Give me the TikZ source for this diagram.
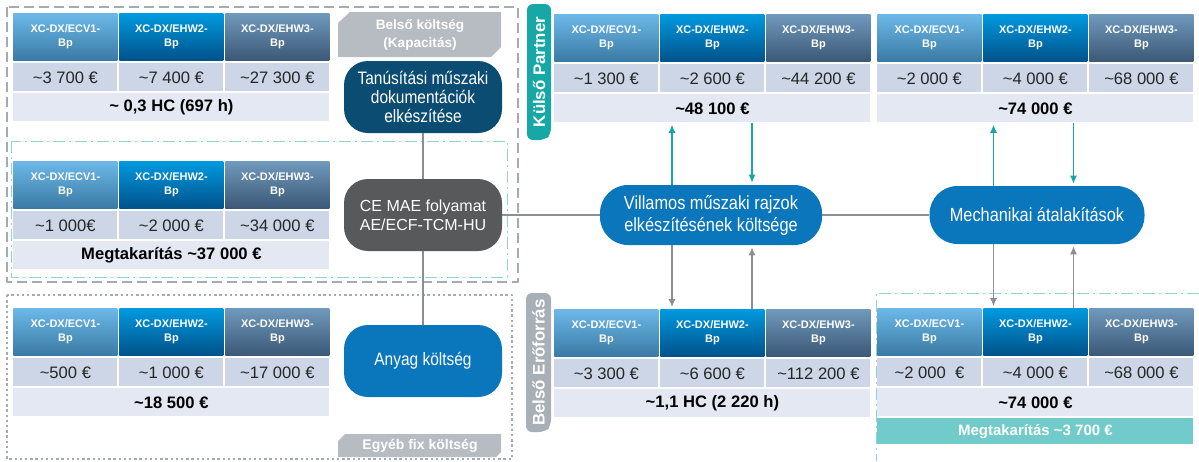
\documentclass[tikz,border=0pt]{standalone}
\usepackage{fontspec}
\setmainfont{Liberation Sans}
\newfontfamily\angosta[FakeStretch=0.86]{Liberation Sans}
\usetikzlibrary{arrows.meta}
\definecolor{azulosc}{HTML}{0B4C73}
\definecolor{azul}{HTML}{0A76BC}
\definecolor{grisosc}{HTML}{58595B}
\definecolor{gristab}{HTML}{B7BCC3}
\definecolor{grisere}{HTML}{A9AFB7}
\definecolor{turq}{HTML}{17A7A6}
\definecolor{turqcl}{HTML}{70CBCA}
\definecolor{turqlin}{HTML}{8ED6D5}
\definecolor{grislin}{HTML}{A6ABB3}
\definecolor{conec}{HTML}{8C8E92}
\definecolor{valfondo}{HTML}{CCD6E6}
\definecolor{totfondo}{HTML}{E4E8F2}
\definecolor{uno}{HTML}{6CB8E8}
\definecolor{unob}{HTML}{3A7AA4}
\definecolor{dos}{HTML}{0099DF}
\definecolor{dosb}{HTML}{00528A}
\definecolor{tres}{HTML}{7099BC}
\definecolor{tresb}{HTML}{3B5876}
\newcommand\kb{\textasciitilde}
% una tabla: nombre, x, y, tres valores, total
\newcommand\tabla[7]{%
  \node[cabecera, top color=uno, bottom color=unob] at (#2,#3) {XC-DX/ECV1-\\Bp};
  \node[cabecera, top color=dos, bottom color=dosb] (#1h) at (#2+106,#3) {XC-DX/EHW2-\\Bp};
  \node[cabecera, top color=tres, bottom color=tresb] at (#2+212,#3) {XC-DX/EHW3-\\Bp};
  \node[valor] at (#2,#3+50) {#4};
  \node[valor] at (#2+106,#3+50) {#5};
  \node[valor] at (#2+212,#3+50) {#6};
  \node[total] (#1t) at (#2,#3+80) {#7};}
\begin{document}
\begin{tikzpicture}[x=0.5pt, y=-0.5pt, line join=round,
  celda/.style={anchor=north west, inner sep=0pt, minimum width=52pt, align=center},
  cabecera/.style={celda, minimum height=23.5pt, text=white, font=\bfseries\fontsize{5.5}{7.2}\selectfont},
  valor/.style={celda, minimum height=14pt, fill=valfondo, text=black!85, font=\fontsize{8.3}{10}\selectfont},
  total/.style={celda, minimum width=158pt, minimum height=14pt, fill=totfondo, text=black, font=\bfseries\fontsize{8.3}{10}\selectfont},
  burbuja/.style={rounded corners=12pt, minimum width=79pt, minimum height=36pt, inner sep=1pt, align=center, text=white, font=\angosta\fontsize{9}{9.5}\selectfont},
  pestana/.style={text=white, font=\bfseries\fontsize{8.4}{10}\selectfont},
  conector/.style={conec, line width=0.6pt},
  flecha/.style={line width=0.6pt, -{Latex[length=4pt,width=3.6pt]}, shorten >=1pt}]
  \useasboundingbox (0,0) rectangle (1199,461);
  % los marcos
  \draw[grislin, line width=1.2pt, dash pattern=on 5pt off 2.5pt] (7,7) rectangle (518,282);
  \draw[turqlin, line width=0.5pt, dash pattern=on 6pt off 2pt on 1pt off 2pt] (11,141) rectangle (507,277);
  \draw[grislin, line width=1.2pt, dash pattern=on 1.2pt off 1.4pt] (7,295) rectangle (512,459);
  \draw[turqlin, line width=0.5pt, dash pattern=on 6pt off 2pt on 1pt off 2pt] (1199,293) -- (876,293) -- (876,461);
  % las pestanas
  \fill[gristab] (338,23) -- (350,12) -- (501,12) -- (501,47) -- (491,57) -- (338,57) -- cycle;
  \node[pestana, align=center, font=\bfseries\fontsize{6.8}{9}\selectfont] (bk) at (420,34.5) {Belső költség\\(Kapacitás)};
  \fill[gristab] (338,441) -- (345,434) -- (501,434) -- (501,452) -- (496,457) -- (338,457) -- cycle;
  \node[pestana, font=\bfseries\fontsize{7}{9}\selectfont] (ef) at (420,446) {Egyéb fix költség};
  \fill[turq, rounded corners=3pt] (551,4) -- (527,4) -- (527,140) -- (545,140) -- (551,134) -- cycle;
  \node[pestana, rotate=90] (kp) at (539,72) {Külső Partner};
  \fill[grisere, rounded corners=3pt] (551,293) -- (526,293) -- (526,432) -- (545,432) -- (551,426) -- cycle;
  \node[pestana, rotate=90] (be) at (538.5,362.5) {Belső Erőforrás};
  % las tablas
  \tabla{ta}{13}{13}{\kb3 700 €}{\kb7 400 €}{\kb27 300 €}{\kb\ 0,3 HC (697 h)}
  \tabla{tb}{13}{161}{\kb1 000€}{\kb2 000 €}{\kb34 000 €}{Megtakarítás \kb37 000 €}
  \tabla{tc}{13}{308}{\kb500 €}{\kb1 000 €}{\kb17 000 €}{\kb18 500 €}
  \tabla{td}{554}{14}{\kb1 300 €}{\kb2 600 €}{\kb44 200 €}{\kb48 100 €}
  \tabla{te}{877}{14}{\kb2 000 €}{\kb4 000 €}{\kb68 000 €}{\kb74 000 €}
  \tabla{tf}{554}{309}{\kb3 300 €}{\kb6 600 €}{\kb112 200 €}{\kb1,1 HC (2 220 h)}
  \tabla{tg}{877}{308}{\kb2 000\ \ €}{\kb4 000 €}{\kb68 000 €}{\kb74 000 €}
  \node[total, fill=turqcl, text=white, minimum height=13pt, font=\bfseries\fontsize{7.5}{9}\selectfont] (ah) at (877,418) {Megtakarítás \kb3 700 €};
  % las burbujas
  \node[burbuja, fill=azulosc] (tan) at (423,97) {Tanúsítási műszaki\\dokumentációk\\elkészítése};
  \node[burbuja, fill=grisosc, font=\fontsize{8}{9.5}\selectfont] (ce) at (423,215) {CE MAE folyamat\\AE/ECF-TCM-HU};
  \node[burbuja, fill=azul] (any) at (423,361) {Anyag költség};
  \node[burbuja, fill=azul, minimum width=111pt, minimum height=30pt, rounded corners=14pt, font=\angosta\fontsize{9.5}{11}\selectfont] (vill) at (711,215) {Villamos műszaki rajzok\\elkészítésének költsége};
  \node[burbuja, fill=azul, minimum width=107.5pt, minimum height=29pt, rounded corners=14pt, font=\angosta\fontsize{9.5}{11}\selectfont] (mech) at (1037,215) {Mechanikai átalakítások};
  % las lineas
  \draw[conector] (tan) -- (ce);
  \draw[conector] (ce) -- (any);
  \draw[conector] (ce) -- (vill);
  \draw[conector] (vill) -- (mech);
  % las flechas
  \foreach \n/\arriba/\abajo/\i/\d in {vill/tdt/tfh/-19.5pt/20.5pt, mech/tet/tgh/-21.75pt/18.25pt} {
    \coordinate (p) at ([xshift=\i]\n.north);
    \coordinate (q) at ([xshift=\d]\n.north);
    \draw[flecha, turq] (p) -- (p |- \arriba.south);
    \draw[flecha, turq] (q |- \arriba.south) -- (q);
    \coordinate (p) at ([xshift=\i]\n.south);
    \coordinate (q) at ([xshift=\d]\n.south);
    \draw[flecha, conec] (p) -- (p |- \abajo.north);
    \draw[flecha, conec] (q |- \abajo.north) -- (q);
  }
\end{tikzpicture}
\end{document}
